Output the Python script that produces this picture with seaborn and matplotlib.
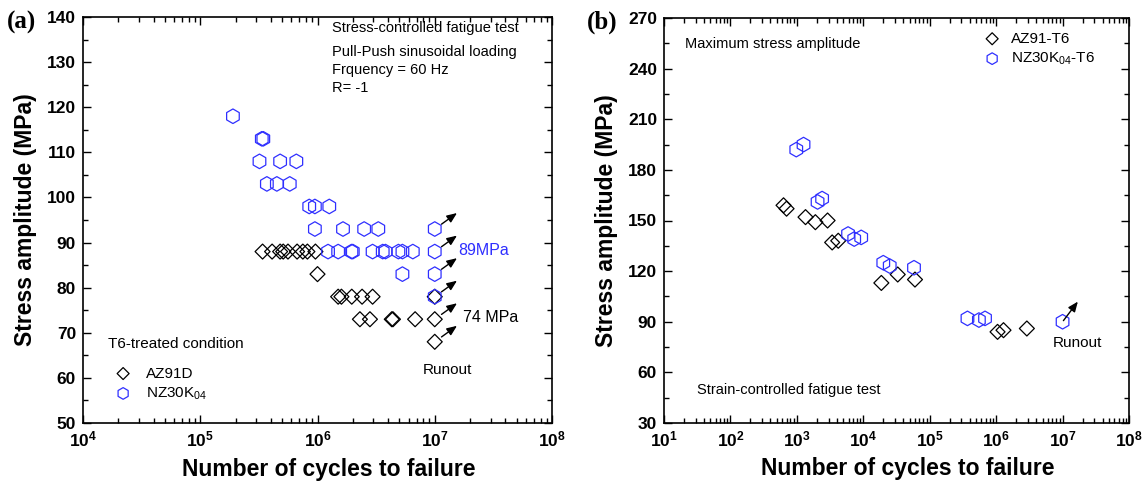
import matplotlib
matplotlib.use("Agg")
import matplotlib.pyplot as plt
import seaborn as sns
import numpy as np
import pandas as pd
from matplotlib.ticker import LogLocator, MultipleLocator, FuncFormatter, NullFormatter

# ---------------- data: panel (a) stress-controlled ----------------
a_az91d_cycles = [3.4e5, 4.1e5, 4.8e5, 5.1e5, 5.6e5, 6.7e5, 7.5e5, 8.2e5, 9.6e5,
                  1.0e6,
                  1.5e6, 1.6e6, 1.96e6, 2.4e6, 2.95e6, 1.0e7,
                  2.3e6, 2.8e6, 4.3e6, 4.4e6, 6.8e6, 1.0e7,
                  1.0e7]
a_az91d_stress = [88, 88, 88, 88, 88, 88, 88, 88, 88,
                  83,
                  78, 78, 78, 78, 78, 78,
                  73, 73, 73, 73, 73, 73,
                  68]
a_nz30_cycles = [1.9e5,
                 3.35e5, 3.45e5,
                 3.2e5, 4.8e5, 6.6e5,
                 3.7e5, 4.5e5, 5.8e5,
                 8.5e5, 9.5e5, 1.26e6,
                 9.5e5, 1.65e6, 2.5e6, 3.3e6, 1.0e7,
                 1.23e6, 1.5e6, 1.95e6, 2.0e6, 2.95e6, 3.6e6, 3.8e6, 4.9e6, 5.3e6, 6.5e6, 1.0e7,
                 5.3e6, 1.0e7,
                 1.0e7]
a_nz30_stress = [118,
                 113, 113,
                 108, 108, 108,
                 103, 103, 103,
                 98, 98, 98,
                 93, 93, 93, 93, 93,
                 88, 88, 88, 88, 88, 88, 88, 88, 88, 88, 88,
                 83, 83,
                 78]
a_runout_cycles = [1.0e7, 1.0e7, 1.0e7, 1.0e7, 1.0e7, 1.0e7]
a_runout_stress = [93, 88, 83, 78, 73, 68]

# ---------------- data: panel (b) strain-controlled ----------------
b_az91_cycles = [630, 700, 1350, 1900, 2900, 3400, 4200, 1.87e4, 3.3e4, 6.0e4, 1.05e6, 1.29e6, 2.9e6]
b_az91_stress = [159, 157, 152, 149, 150, 137, 138, 113, 118, 115, 84, 85, 86]
b_nz30_cycles = [980, 1260, 2050, 2400, 5900, 7300, 9300, 2.0e4, 2.5e4, 5.8e4, 3.7e5, 5.5e5, 6.8e5, 1.0e7]
b_nz30_stress = [192, 195, 161, 163, 142, 139, 140, 125, 123, 122, 92, 91, 92, 90]
b_runout_cycles = [1.0e7]
b_runout_stress = [90]

a_xlim = (1e4, 1e8)
a_ylim = (50, 140)
b_xlim = (1e1, 1e8)
b_ylim = (30, 270)

BLUE = "#2f2fff"

sns.set_style("ticks")
plt.rcParams["font.family"] = ["Liberation Sans", "DejaVu Sans"]
plt.rcParams["mathtext.fontset"] = "custom"
plt.rcParams["mathtext.rm"] = "Liberation Sans"
plt.rcParams["mathtext.bf"] = "Liberation Sans:bold"
plt.rcParams["mathtext.it"] = "Liberation Sans:italic"
for key in ["text.color", "axes.labelcolor", "xtick.color", "ytick.color", "axes.edgecolor"]:
    plt.rcParams[key] = "black"

fig = plt.figure(figsize=(11.46, 4.84), dpi=100)
axA = fig.add_axes([83/1146, 1-423/484, (552-83)/1146, (423-17)/484])
axB = fig.add_axes([664/1146, 1-423/484, (1129-664)/1146, (423-18)/484])

DIA = dict(marker="D", s=58, facecolors="none", edgecolor="black", linewidth=0.9)
HEX = dict(marker="h", s=110, facecolors="none", edgecolor=BLUE, linewidth=0.9)

def sci_fmt(v, pos):
    e = int(round(np.log10(v)))
    return r"$\mathbf{10^{%d}}$" % e

def style_axes(ax, xlim, ylim, ymaj, ymin):
    ax.set_xscale("log")
    ax.set_xlim(*xlim)
    ax.set_ylim(*ylim)
    ax.xaxis.set_major_locator(LogLocator(base=10, numticks=20))
    ax.xaxis.set_minor_locator(LogLocator(base=10, subs=np.arange(2, 10), numticks=20))
    ax.xaxis.set_major_formatter(FuncFormatter(sci_fmt))
    ax.xaxis.set_minor_formatter(NullFormatter())
    ax.yaxis.set_major_locator(MultipleLocator(ymaj))
    ax.yaxis.set_minor_locator(MultipleLocator(ymin))
    ax.tick_params(which="both", direction="in", top=True, right=True, width=1.0)
    ax.tick_params(which="major", length=6, labelsize=12.5, pad=5)
    ax.tick_params(which="minor", length=3.5)
    for sp in ax.spines.values():
        sp.set_linewidth(1.2)
        sp.set_visible(True)
    ax.set_xlabel("Number of cycles to failure", fontsize=16.5, fontweight="bold")
    ax.set_ylabel("Stress amplitude (MPa)", fontsize=16.5, fontweight="bold")
    ax.yaxis.set_label_coords(-0.098, 0.5)
    ax.xaxis.set_label_coords(0.525, -0.085)

# ---------------- panel (a) ----------------
sns.scatterplot(x=a_az91d_cycles, y=a_az91d_stress, ax=axA, label="AZ91D", zorder=3, **DIA)
sns.scatterplot(x=a_nz30_cycles, y=a_nz30_stress, ax=axA, label=r"NZ30K$_{\rm 04}$", zorder=3, **HEX)
style_axes(axA, a_xlim, a_ylim, 10, 5)
for yl in axA.get_yticklabels():
    yl.set_fontweight("bold")

for n, s in zip(a_runout_cycles, a_runout_stress):
    axA.annotate("", xy=(n, s), xytext=(16, 11.5), textcoords="offset points",
                 arrowprops=dict(arrowstyle="<|-,head_length=0.6,head_width=0.25",
                                 color="black", lw=1.0, shrinkA=0, shrinkB=6))

fs = 10.5
axA.text(0.531, 0.973, "Stress-controlled fatigue test", transform=axA.transAxes, fontsize=fs, va="center", ha="left")
axA.text(0.531, 0.914, "Pull-Push sinusoidal loading", transform=axA.transAxes, fontsize=fs, va="center", ha="left")
axA.text(0.531, 0.869, "Frquency = 60 Hz", transform=axA.transAxes, fontsize=fs, va="center", ha="left")
axA.text(0.531, 0.825, "R= -1", transform=axA.transAxes, fontsize=fs, va="center", ha="left")
axA.text(0.053, 0.195, "T6-treated condition", transform=axA.transAxes, fontsize=11, va="center", ha="left")
axA.text(0.80, 0.424, "89MPa", transform=axA.transAxes, fontsize=11.5, va="center", ha="left", color=BLUE)
axA.text(0.81, 0.259, "74 MPa", transform=axA.transAxes, fontsize=11.5, va="center", ha="left")
axA.text(0.776, 0.131, "Runout", transform=axA.transAxes, fontsize=11, va="center", ha="center")

axA.legend(loc="upper left", bbox_to_anchor=(0.066, 0.139), borderaxespad=0, borderpad=0,
           frameon=False, fontsize=11, handlelength=1.2, handletextpad=0.9, labelspacing=0.32,
           scatterpoints=1, markerscale=0.8)

# ---------------- panel (b) ----------------
sns.scatterplot(x=b_az91_cycles, y=b_az91_stress, ax=axB, label="AZ91-T6", zorder=3, **DIA)
sns.scatterplot(x=b_nz30_cycles, y=b_nz30_stress, ax=axB, label=r"NZ30K$_{\rm 04}$-T6", zorder=3, **HEX)
style_axes(axB, b_xlim, b_ylim, 30, 15)
for yl in axB.get_yticklabels():
    yl.set_fontweight("bold")

for n, s in zip(b_runout_cycles, b_runout_stress):
    axB.annotate("", xy=(n, s), xytext=(11, 14.5), textcoords="offset points",
                 arrowprops=dict(arrowstyle="<|-,head_length=0.6,head_width=0.25",
                                 color="black", lw=1.0, shrinkA=0, shrinkB=1))

axB.text(0.045, 0.936, "Maximum stress amplitude", transform=axB.transAxes, fontsize=fs, va="center", ha="left")
axB.text(0.071, 0.081, "Strain-controlled fatigue test", transform=axB.transAxes, fontsize=fs, va="center", ha="left")
axB.text(0.890, 0.198, "Runout", transform=axB.transAxes, fontsize=11, va="center", ha="center")

axB.legend(loc="upper left", bbox_to_anchor=(0.686, 0.966), borderaxespad=0, borderpad=0,
           frameon=False, fontsize=11, handlelength=1.2, handletextpad=0.65, labelspacing=0.32,
           scatterpoints=1, markerscale=0.8)

fig.text(7/1146, 1-22/484, "(a)", fontsize=18, fontweight="bold", family="Liberation Serif", va="center", ha="left")
fig.text(587/1146, 1-22/484, "(b)", fontsize=18, fontweight="bold", family="Liberation Serif", va="center", ha="left")

fig.savefig("out.png", dpi=100)
